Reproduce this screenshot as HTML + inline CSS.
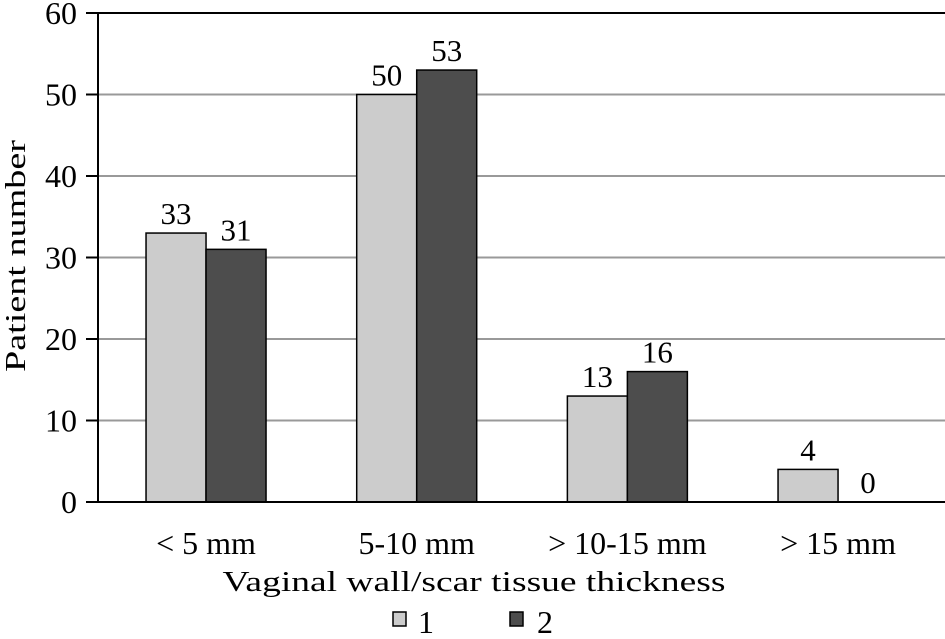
<!DOCTYPE html>
<html><head><meta charset="utf-8"><style>
body{margin:0;background:#fff}
svg text{font-family:"Liberation Serif",serif;fill:#000}
</style></head><body>
<svg id="chart" width="945" height="634" xmlns="http://www.w3.org/2000/svg">
<g id="grid"></g><g id="bars"></g><g id="axes"></g>
<text transform="translate(25,256) rotate(-90)" text-anchor="middle" font-size="29" textLength="232" lengthAdjust="spacingAndGlyphs">Patient number</text>
<text x="474" y="591" text-anchor="middle" font-size="29" textLength="503" lengthAdjust="spacingAndGlyphs">Vaginal wall/scar tissue thickness</text>
<g>
<rect x="393" y="612" width="13" height="14" fill="#cccccc" stroke="#000" stroke-width="1.5"/>
<text x="418" y="633" font-size="32">1</text>
<rect x="510" y="612" width="13" height="14" fill="#4d4d4d" stroke="#000" stroke-width="1.5"/>
<text x="537" y="633" font-size="32">2</text>
</g>
</svg>
<script>
const categories=["< 5 mm","5-10 mm","> 10-15 mm","> 15 mm"];
const series1=[33,50,13,4];
const series2=[31,53,16,0];
const yTicks=[0,10,20,30,40,50,60];
const NS="http://www.w3.org/2000/svg";
const X0=100.7,BAND=210.67,BW=60,Y0=502,Y1=13,YMAX=60;
const yS=v=>Y0-(v/YMAX)*(Y0-Y1);
const cx=i=>X0+BAND*(i+0.5);
function mk(tag,attrs,parent){const e=document.createElementNS(NS,tag);for(const k in attrs)e.setAttribute(k,attrs[k]);parent.appendChild(e);return e;}
const gGrid=document.getElementById('grid'),gBars=document.getElementById('bars'),gAxes=document.getElementById('axes');
yTicks.forEach(t=>{
  if(t>0&&t<60){const g=mk('line',{x1:98,x2:945,y1:yS(t),y2:yS(t),stroke:'#999','stroke-width':2},gGrid);
  
  }
  const tk=mk('line',{x1:86,x2:98,y1:yS(t),y2:yS(t),stroke:'#000','stroke-width':2},gAxes);
  
  
  const lb=mk('text',{x:77,y:yS(t)+11,'text-anchor':'end','font-size':32},gAxes);lb.textContent=t;
  
  
});
const topLine=mk('line',{x1:86,x2:945,y1:Y1,y2:Y1,stroke:'#000','stroke-width':2},gAxes);


const yax=mk('line',{x1:98,x2:98,y1:Y1,y2:Y0,stroke:'#000','stroke-width':2},gAxes);


const xax=mk('line',{x1:86,x2:945,y1:Y0,y2:Y0,stroke:'#000','stroke-width':2},gAxes);


categories.forEach((c,i)=>{
  [[series1,'#cccccc',-BW,'1'],[series2,'#4d4d4d',0,'2']].forEach(([s,col,off,sn])=>{
    const v=s[i],bx=cx(i)+off;
    if(v>0){const r=mk('rect',{x:bx,y:yS(v),width:BW,height:Y0-yS(v),fill:col,stroke:'#000','stroke-width':1.5},gBars);
    
    }
    const t=mk('text',{x:bx+BW/2,y:yS(v)-9,'text-anchor':'middle','font-size':31},gBars);t.textContent=v;
    
    
  });
  const l=mk('text',{x:cx(i),y:554,'text-anchor':'middle','font-size':32},gAxes);l.textContent=c;
  
  
});
</script>
</body></html>
